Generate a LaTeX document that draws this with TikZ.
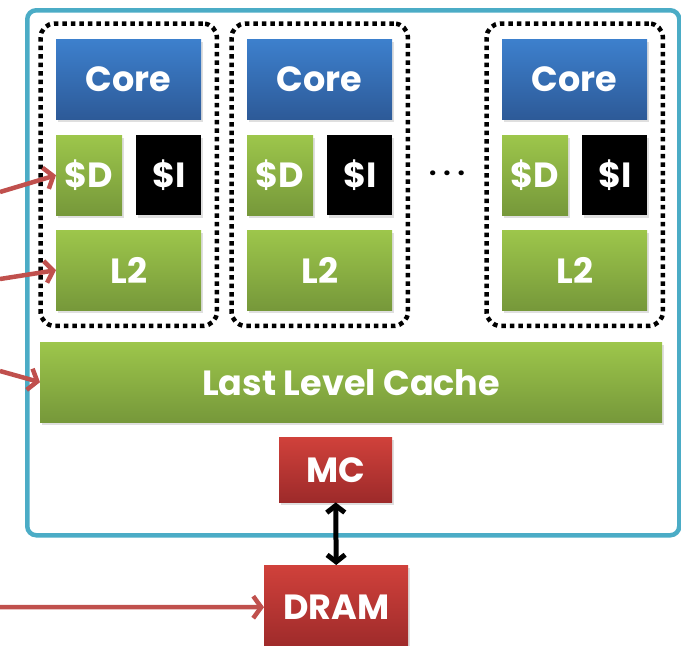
\documentclass[tikz,border=0pt]{standalone}
\usepackage{fontspec}
\setmainfont{Poppins}
\usepackage{xcolor}
\usepackage{tikz}
\usetikzlibrary{positioning,arrows.meta,fit,shadows}

\definecolor{coretop}{HTML}{3D80CD}
\definecolor{corebot}{HTML}{2D5A98}
\definecolor{cachetop}{HTML}{9DC64B}
\definecolor{cachebot}{HTML}{76983A}
\definecolor{memtop}{HTML}{D0413B}
\definecolor{membot}{HTML}{9D2A2A}
\definecolor{chipline}{HTML}{4BACC6}
\definecolor{arrowred}{HTML}{C0504D}

\begin{document}
\begin{tikzpicture}[x=1pt, y=-1pt,
  blk/.style={anchor=north west, minimum width=#1, minimum height=80pt, inner sep=0pt,
    text=white, font=\fontsize{35}{38}\selectfont\bfseries,
    drop shadow={opacity=0.25, shadow xshift=1.5pt, shadow yshift=-2.5pt}},
  corebox/.style={blk=145pt, top color=coretop, bottom color=corebot},
  cachebox/.style={blk=#1, top color=cachetop, bottom color=cachebot},
  ibox/.style={blk=65pt, fill=black},
  membox/.style={blk=#1, top color=memtop, bottom color=membot},
  group/.style={draw, line width=4.5pt, dash pattern=on 4.5pt off 4pt, rounded corners=14pt, inner sep=15.5pt},
  feed/.style={arrowred, line width=4.5pt, -{Straight Barb[length=8pt, width=22pt]}},
  link/.style={line width=5pt, {Straight Barb[length=7pt, width=18pt]}-{Straight Barb[length=7pt, width=18pt]}}]
  \useasboundingbox (0,0) rectangle (681,646);
  \node (chip) [draw=chipline, line width=4.5pt, rounded corners=9pt, anchor=north west,
        minimum width=652pt, minimum height=525pt] at (25,8) {};
  \foreach \gx/\i in {0/1, 191/2, 446/3} {
    \node (core\i) [corebox] at (56+\gx,39) {Core};
    \node (sd\i) [cachebox=66pt] at (56+\gx,135) {\$D};
    \node (si\i) [ibox] at (136+\gx,135) {\$I};
    \node (ltwo\i) [cachebox=145pt] at (56+\gx,230) {L2};
    \node (grp\i) [group, fit=(core\i) (ltwo\i)] {};
  }
  \node (dots) at (447,173) {\fontsize{26}{26}\selectfont\bfseries .\hspace{7pt}.\hspace{7pt}.};
  \node (llc) [cachebox=622pt] at (40,342) {Last Level Cache};
  \node (mc) [membox=113pt, minimum height=65pt] at (279,437) {MC};
  \node (dram) [membox=144pt, minimum height=84pt] at (264,565) {DRAM};
  \coordinate (inD) at (0,192);
  \coordinate (inL) at (0,279);
  \coordinate (inC) at (0,371);
  \coordinate (inM) at (0,607);
  \draw[feed] (inD) -- (sd1.west);
  \draw[feed] (inL) -- (ltwo1.west);
  \draw[feed] (inC) -- (llc.west);
  \draw[feed] (inM) -- (dram.west);
  \draw[link] (mc.south) -- (dram.north);
\end{tikzpicture}
\end{document}
